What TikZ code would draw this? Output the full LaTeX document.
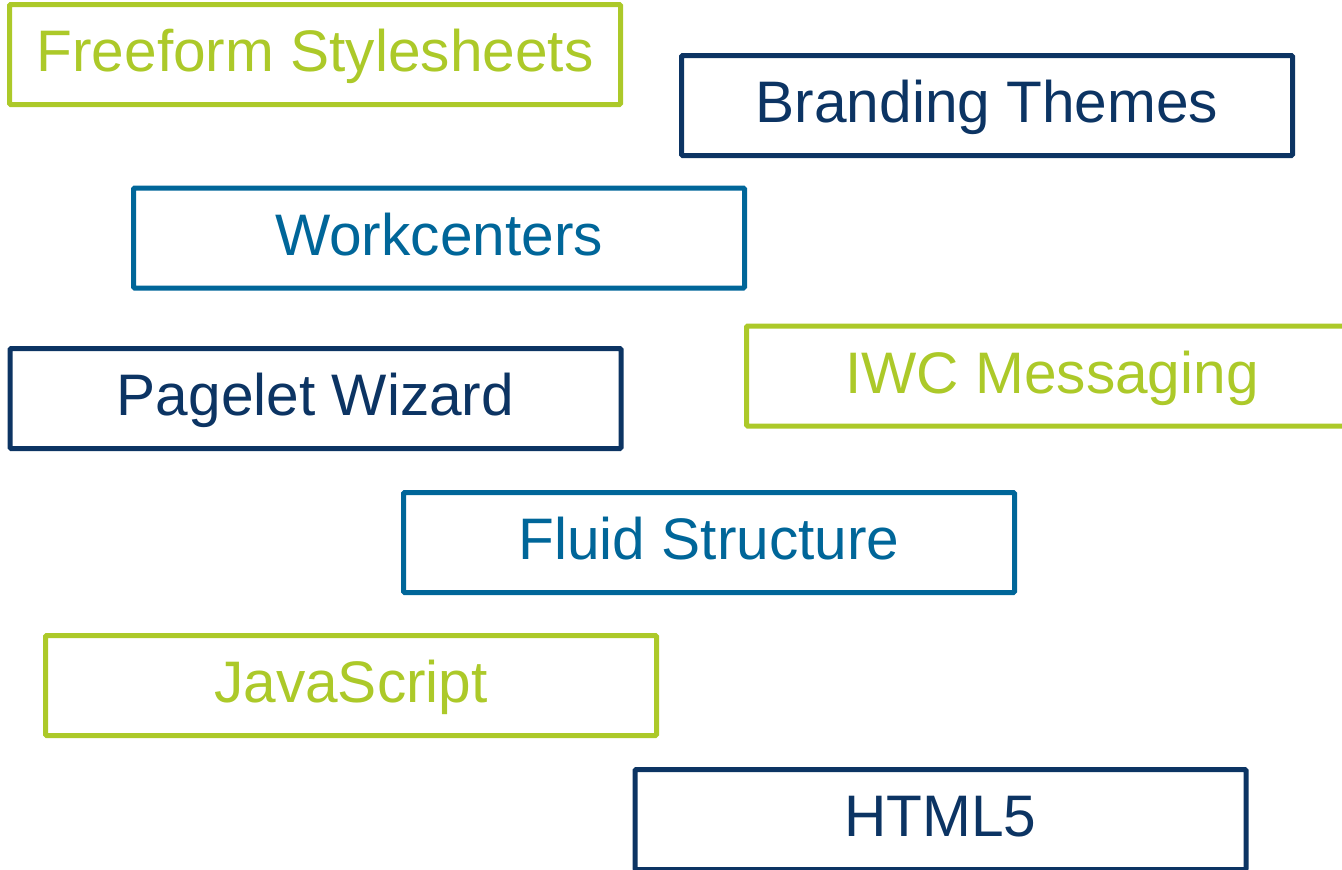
\documentclass[tikz,border=0pt]{standalone}
\usepackage{fontspec}
\setmainfont{Liberation Sans}
\usepackage{tikz}
\definecolor{limegreen}{RGB}{172,201,41}
\definecolor{navyblue}{RGB}{12,52,99}
\definecolor{seablue}{RGB}{0,102,153}

\begin{document}
\begin{tikzpicture}
[
x=0.5pt, y=-0.5pt,
tag/.style={draw=#1, text=#1, rectangle, line width=2.5pt, rounded corners=0.6pt,
  minimum width=305.5pt, minimum height=50pt, inner sep=0pt,
  text height=22pt, text depth=5pt, font=\fontsize{29.3}{35}\selectfont}
]
\useasboundingbox (0,0) rectangle (1342,869);
\clip (0,0) rectangle (1342,869);

\node[tag=limegreen] (freeform) at (315,54.5) {Freeform Stylesheets};
\node[tag=navyblue] (branding) at (987,105.5) {Branding Themes};
\node[tag=seablue] (workcenters) at (439,238) {Workcenters};
\node[tag=navyblue] (pagelet) at (315.5,398.5) {Pagelet Wizard};
\node[tag=limegreen] (iwc) at (1052,376) {IWC Messaging};
\node[tag=seablue] (fluid) at (709,542.5) {Fluid Structure};
\node[tag=limegreen] (javascript) at (351,685.5) {JavaScript};
\node[tag=navyblue] (html) at (940.5,819.5) {HTML5};
\end{tikzpicture}
\end{document}
